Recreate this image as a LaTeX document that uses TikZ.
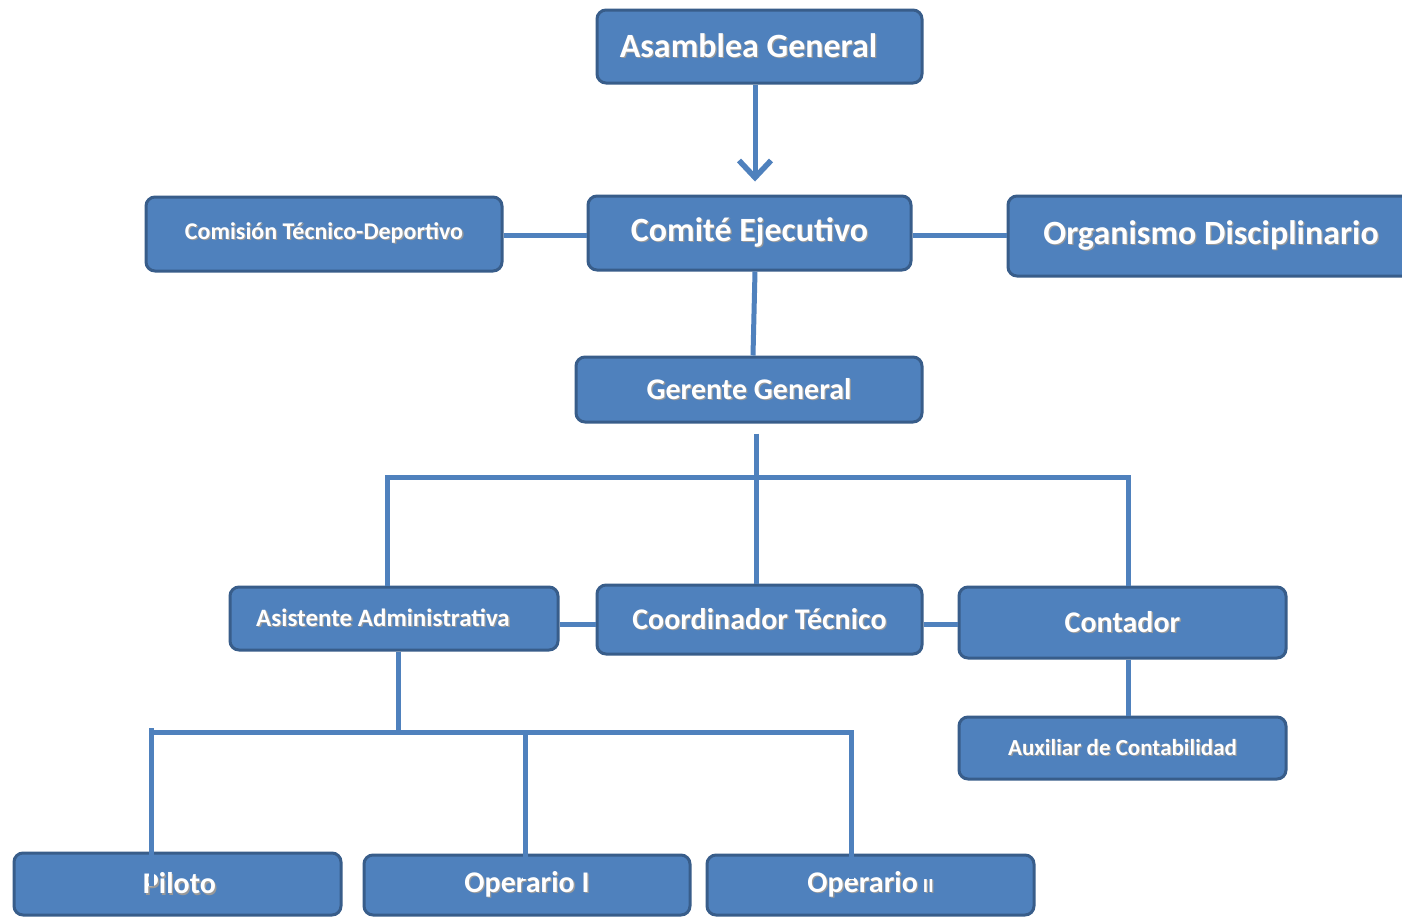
\documentclass[tikz,border=0pt]{standalone}
\usepackage{fontspec}
\setmainfont{Carlito}
\usetikzlibrary{arrows.meta}
\definecolor{boxfill}{HTML}{4F81BD}
\definecolor{boxline}{HTML}{385D8A}
\definecolor{conncol}{HTML}{4F81BD}
\newcommand\shtext[1]{\makebox[0pt][l]{\kern1.3pt\raisebox{-1.3pt}{\textcolor{black!40}{#1}}}#1}
\newcommand\fs[1]{\fontsize{#1}{#1}\selectfont}
\begin{document}
\begin{tikzpicture}[x=1pt,y=-1pt,
  orgbox/.style={draw=boxline, fill=boxfill, line width=3pt, rounded corners=9pt,
    text=white, font=\bfseries, inner sep=0pt, align=center},
  conn/.style={draw=conncol, line width=5pt},
]
\useasboundingbox (0,0) rectangle (1402,916);
\clip (0,0) rectangle (1402,916);
\fill[white] (0,0) rectangle (1402,916);

% nodes
\node[orgbox, minimum width=325pt, minimum height=73pt] (asam) at (759.5,46.5)
  {\fs{34}\shtext{Asamblea General}\hspace{22pt}};
\node[orgbox, minimum width=323pt, minimum height=74pt] (comi) at (749.5,233)
  {\fs{34}\shtext{Comité Ejecutivo}};
\node[orgbox, minimum width=356pt, minimum height=74pt] (comis) at (324,234)
  {\raisebox{6pt}{\fs{24}\shtext{Comisión Técnico-Deportivo}}};
\node[orgbox, minimum width=420pt, minimum height=80pt] (org) at (1218,236)
  {\fs{34}\shtext{Organismo Disciplinario}\hspace{14pt}};
\node[orgbox, minimum width=346pt, minimum height=65pt] (ger) at (749,389.5)
  {\fs{30}\shtext{Gerente General}};
\node[orgbox, minimum width=328pt, minimum height=63pt] (asis) at (394,618.5)
  {\fs{25}\shtext{Asistente Administrativa}\hspace{22pt}};
\node[orgbox, minimum width=325pt, minimum height=69pt] (coord) at (759.5,619.5)
  {\raisebox{2pt}{\fs{30}\shtext{Coordinador Técnico}}};
\node[orgbox, minimum width=327pt, minimum height=71pt] (cont) at (1122.5,622.5)
  {\raisebox{2pt}{\fs{30}\shtext{Contador}}};
\node[orgbox, minimum width=327pt, minimum height=62pt] (aux) at (1122.5,748)
  {\raisebox{2pt}{\fs{23}\shtext{Auxiliar de Contabilidad}}};
\node[orgbox, minimum width=327pt, minimum height=62pt] (pil) at (177.5,884)
  {\raisebox{-2pt}{\hspace{4pt}\fs{30}\shtext{Piloto}}};
\node[orgbox, minimum width=326pt, minimum height=60pt] (op1) at (527,885)
  {\raisebox{-3pt}{\fs{30}\shtext{Operario I}}};
\node[orgbox, minimum width=327pt, minimum height=60pt] (op2) at (870.5,885)
  {\raisebox{-3pt}{\fs{30}\shtext{Operario}\,\fs{20}\shtext{II}}};

% connectors
\draw[conn, -{Straight Barb[length=17pt,width=32pt,line width=5.5pt]}, shorten >=13pt]
  ([xshift=-4.5pt]asam.south) -- ([xshift=5.5pt]comi.north);
\draw[conn] ([yshift=-1pt]comis.east) -- ([yshift=-2pt]comi.west);
\draw[conn] ([yshift=-2pt]comi.east) -- ([yshift=-2pt]comi.east -| org.west);
\draw[conn] ([xshift=5.5pt]comi.south) -- ([xshift=4pt]ger.north);

\coordinate (b1) at (756,477);
\draw[conn] ([xshift=7pt,yshift=-10pt]ger.south) -- (b1);
\draw[conn] ([xshift=-7pt]asis.north) |- (b1) -| ([xshift=5.5pt]cont.north);
\draw[conn] (b1) -- (b1 |- coord.north);
\draw[conn] ([yshift=-5.5pt]asis.east) -- ([yshift=-5.5pt]asis.east -| coord.west);
\draw[conn] ([yshift=-4.5pt]coord.east) -- ([yshift=-4.5pt]coord.east -| cont.west);
\draw[conn] ([xshift=5.5pt]cont.south) -- ([xshift=5.5pt]aux.north);

\coordinate (b2) at (398,732);
\draw[conn] ([xshift=4pt]asis.south) -- (b2);
\draw[conn] ([xshift=-26.5pt,yshift=-34pt]pil.north) -- ([xshift=-26.5pt]pil.north |- 0,728);
\draw[conn] ([xshift=-28.5pt]pil.north |- b2) -- ([xshift=-19.5pt]op2.north |- b2)
  -- ([xshift=-19.5pt,yshift=-25pt]op2.north);
\draw[conn] ([xshift=-2pt]op1.north |- b2) -- ([xshift=-2pt,yshift=-25pt]op1.north);
\end{tikzpicture}
\end{document}
